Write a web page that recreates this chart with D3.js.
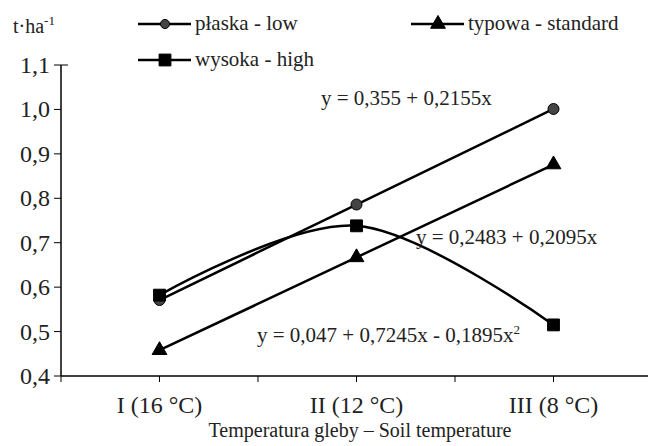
<!DOCTYPE html>
<html>
<head>
<meta charset="utf-8">
<script src="https://cdn.jsdelivr.net/npm/d3@7"></script>
</head>
<body style="margin:0">
<svg id="chart" width="648" height="446" font-family="Liberation Serif"></svg>
<script>
// dane
const categories = ['I (16 °C)', 'II (12 °C)', 'III (8 °C)']
const low = [0.571, 0.786, 1.001]
const standard = [0.458, 0.667, 0.876]
const high = [0.582, 0.738, 0.515]
const yTicks = [0.4, 0.5, 0.6, 0.7, 0.8, 0.9, 1.0, 1.1]

const svg = d3.select('#chart')
const x = d3.scaleBand().domain(categories).range([61, 652])
const y = d3.scaleLinear().domain([0.4, 1.1]).range([376, 65])
const cx = d => x(d) + x.bandwidth() / 2
const fmt = v => d3.format('.1f')(v).replace('.', ',')

function label(sel) {
  return sel.attr('font-family', 'Liberation Serif')
    .style('font-family', "'Liberation Serif'")
    .attr('fill', '#222')
}

// osie
svg.append('line').attr('x1', 61).attr('x2', 652).attr('y1', y(0.4)).attr('y2', y(0.4))
  .attr('stroke', '#000').attr('stroke-width', 1.5)
svg.append('line').attr('x1', 61).attr('x2', 61).attr('y1', y(0.4)).attr('y2', y(1.1))
  .attr('stroke', '#000').attr('stroke-width', 1.5)

const xTickPos = []
categories.forEach(c => { xTickPos.push(x(c), cx(c)) })
svg.selectAll('.xt').data(xTickPos).join('line')
  .attr('x1', d => d).attr('x2', d => d).attr('y1', y(0.4)).attr('y2', y(0.4) + 6)
  .attr('stroke', '#000')

svg.selectAll('.yt').data(yTicks).join('line')
  .attr('x1', 54).attr('y1', d => y(d)).attr('y2', d => y(d))
  .attr('x2', d => d === 1.1 ? 68 : 61)
  .attr('stroke', '#000')

label(svg.selectAll('.yl').data(yTicks).join('text'))
  .attr('x', 50).attr('y', d => y(d) + 8)
  .attr('text-anchor', 'end').attr('font-size', 24)
  .text(fmt)

label(svg.selectAll('.xl').data(categories).join('text'))
  .attr('x', d => cx(d)).attr('y', 413)
  .attr('text-anchor', 'middle').attr('font-size', 24)
  .text(d => d)

label(svg.append('text')).attr('x', 360).attr('y', 437).attr('text-anchor', 'middle')
  .attr('font-size', 20).text('Temperatura gleby – Soil temperature')

const unit = label(svg.append('text')).attr('x', 13).attr('y', 33).attr('font-size', 20)
unit.append('tspan').text('t·ha')
unit.append('tspan').attr('font-size', 13).attr('dy', -8).text('-1')

// linie
const straight = d3.line().x((d, i) => cx(categories[i])).y(d => y(d))
const smooth = d3.line().x((d, i) => cx(categories[i])).y(d => y(d)).curve(d3.curveCatmullRom.alpha(0))

svg.append('path').attr('d', straight(low)).attr('fill', 'none').attr('stroke', '#000').attr('stroke-width', 2.5)
svg.append('path').attr('d', straight(standard)).attr('fill', 'none').attr('stroke', '#000').attr('stroke-width', 2.5)
svg.append('path').attr('d', smooth(high)).attr('fill', 'none').attr('stroke', '#000').attr('stroke-width', 2.5)

const circleSym = d3.symbol().type(d3.symbolCircle).size(95)
const squareSym = d3.symbol().type(d3.symbolSquare).size(140)
const triSym = d3.symbol().type(d3.symbolTriangle).size(95)
const circleLeg = d3.symbol().type(d3.symbolCircle).size(65)

function markers(data, sym, fill) {
  svg.selectAll(null).data(data).join('path')
    .attr('d', sym)
    .attr('transform', (d, i) => `translate(${cx(categories[i])},${y(d)})`)
    .attr('fill', fill).attr('stroke', '#000').attr('stroke-width', 1)
}
markers(low, circleSym, '#444')
markers(standard, triSym, '#000')
markers(high, squareSym, '#000')

// legenda
const legend = [
  { label: 'płaska - low', sym: circleLeg, fill: '#444', x: 138, y: 24 },
  { label: 'typowa - standard', sym: triSym, fill: '#000', x: 411, y: 24 },
  { label: 'wysoka - high', sym: squareSym, fill: '#000', x: 138, y: 60 }
]
legend.forEach(l => {
  svg.append('line').attr('x1', l.x).attr('x2', l.x + 53).attr('y1', l.y).attr('y2', l.y)
    .attr('stroke', '#000').attr('stroke-width', 2.5)
  svg.append('path').attr('d', l.sym).attr('transform', `translate(${l.x + 27},${l.y})`)
    .attr('fill', l.fill).attr('stroke', '#000')
  label(svg.append('text')).attr('x', l.x + 57).attr('y', l.y + 6).attr('font-size', 21).text(l.label)
})

// równania
label(svg.append('text')).attr('x', 321).attr('y', 105).attr('font-size', 21).text('y = 0,355 + 0,2155x')
label(svg.append('text')).attr('x', 416).attr('y', 244).attr('font-size', 21).text('y = 0,2483 + 0,2095x')
const eq = label(svg.append('text')).attr('x', 257).attr('y', 342).attr('font-size', 21)
eq.append('tspan').text('y = 0,047 + 0,7245x - 0,1895x')
eq.append('tspan').attr('font-size', 13).attr('dy', -8).text('2')
</script>
</body>
</html>
